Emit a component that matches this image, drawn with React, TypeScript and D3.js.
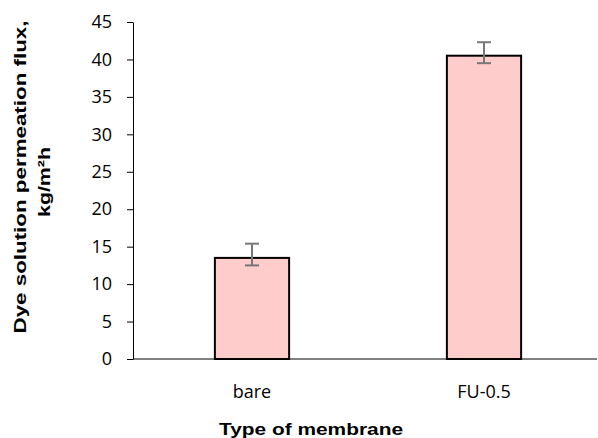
import React, { useEffect, useRef } from "react";
import * as d3 from "d3";

const categories = ["bare", "FU-0.5"];
const fluxValues = [13.5, 40.5];
const errPlus = [1.9, 1.8];
const errMinus = [1.0, 1.0];
const yTicks = [0, 5, 10, 15, 20, 25, 30, 35, 40, 45];

const W = 598;
const H = 438;

export default function App() {
  const ref = useRef<SVGSVGElement>(null);

  useEffect(() => {
    const svg = d3.select(ref.current);
    svg.selectAll("*").remove();

    const x = d3.scaleBand().domain(categories).range([136, 600]).padding(0);
    const y = d3.scaleLinear().domain([0, 45]).range([359, 22]);

    const data = categories.map((c, i) => ({
      cat: c,
      value: fluxValues[i],
      hi: fluxValues[i] + errPlus[i],
      lo: fluxValues[i] - errMinus[i],
    }));
    const barW = x.bandwidth() * 0.32;

    // y axis
    const yAxis = svg
      .append("g")
      .attr("transform", "translate(133,0)")
      .call(d3.axisLeft(y).tickValues(yTicks).tickSize(6).tickSizeOuter(0).tickPadding(15));
    yAxis.selectAll("line").attr("stroke", "#000");
    yAxis.select(".domain").attr("stroke", "#000");
    yAxis
      .selectAll("text")
      .attr("font-family", "Open Sans")
      .attr("font-size", 18)
      .attr("fill", "#000");

    // bars
    svg
      .selectAll(".bar")
      .data(data)
      .enter()
      .append("rect")
      .attr("class", "bar")
      .attr("x", (d) => x(d.cat)! + x.bandwidth() / 2 - barW / 2)
      .attr("y", (d) => y(d.value))
      .attr("width", barW)
      .attr("height", (d) => y(0) - y(d.value))
      .attr("fill", "#ffcccc")
      .attr("stroke", "#000")
      .attr("stroke-width", 2);

    // x axis line
    svg
      .append("line")
      .attr("x1", 133)
      .attr("x2", 597)
      .attr("y1", y(0))
      .attr("y2", y(0))
      .attr("stroke", "#000")
      .attr("stroke-width", 1.2);

    // error bars
    const eb = svg.selectAll(".err").data(data).enter().append("g").attr("class", "err");
    const cx = (d: any) => x(d.cat)! + x.bandwidth() / 2;
    eb.append("line")
      .attr("x1", cx)
      .attr("x2", cx)
      .attr("y1", (d) => y(d.hi))
      .attr("y2", (d) => y(d.lo))
      .attr("stroke", "#777")
      .attr("stroke-width", 2);
    eb.append("line")
      .attr("x1", (d) => cx(d) - 7)
      .attr("x2", (d) => cx(d) + 7)
      .attr("y1", (d) => y(d.hi))
      .attr("y2", (d) => y(d.hi))
      .attr("stroke", "#777")
      .attr("stroke-width", 2);
    eb.append("line")
      .attr("x1", (d) => cx(d) - 7)
      .attr("x2", (d) => cx(d) + 7)
      .attr("y1", (d) => y(d.lo))
      .attr("y2", (d) => y(d.lo))
      .attr("stroke", "#777")
      .attr("stroke-width", 2);

    // x category labels
    svg
      .selectAll(".xlab")
      .data(data)
      .enter()
      .append("text")
      .attr("class", "xlab")
      .attr("x", cx)
      .attr("y", 398)
      .attr("text-anchor", "middle")
      .attr("font-family", "Open Sans")
      .attr("font-size", 18)
      .text((d) => d.cat);

    // titles
    svg
      .append("text")
      .attr("x", 311)
      .attr("y", 435)
      .attr("text-anchor", "middle")
      .attr("font-family", "Liberation Sans, Arial, sans-serif")
      .attr("font-weight", "bold")
      .attr("font-size", 17)
      .attr("textLength", 184)
      .attr("lengthAdjust", "spacingAndGlyphs")
      .text("Type of membrane");

    const yt = svg.append("g").attr("transform", "translate(0,177) rotate(-90)");
    yt.append("text")
      .attr("x", 0)
      .attr("y", 26)
      .attr("text-anchor", "middle")
      .attr("font-family", "Liberation Sans, Arial, sans-serif")
      .attr("font-weight", "bold")
      .attr("font-size", 16)
      .attr("textLength", 313)
      .attr("lengthAdjust", "spacingAndGlyphs")
      .text("Dye solution permeation  flux,");
    yt.append("text")
      .attr("x", -5)
      .attr("y", 50)
      .attr("text-anchor", "middle")
      .attr("font-family", "Liberation Sans, Arial, sans-serif")
      .attr("font-weight", "bold")
      .attr("font-size", 16)
      .attr("textLength", 70)
      .attr("lengthAdjust", "spacingAndGlyphs")
      .text("kg/m²h");
  }, []);

  return (
    <div style={{ position: "absolute", left: 0, top: 0 }}>
      <svg ref={ref} width={W} height={H} style={{ display: "block", background: "#fff" }} />
    </div>
  );
}
